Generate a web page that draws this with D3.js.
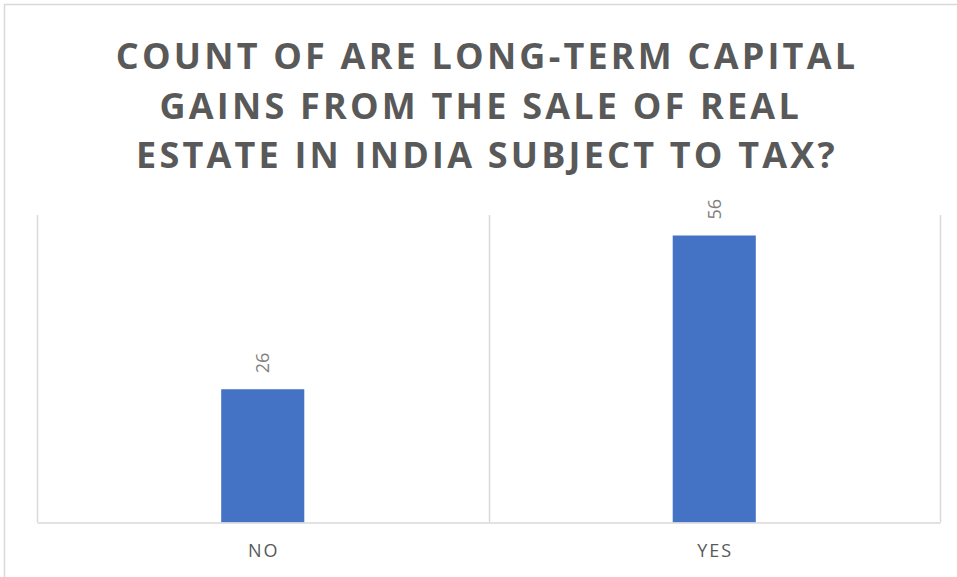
<!DOCTYPE html>
<html>
<head>
<meta charset="utf-8">
<script src="https://cdn.jsdelivr.net/npm/d3@7"></script>
<style>
  body { margin: 0; background: #fff; }
</style>
</head>
<body>
<div id="chart"></div>
<script>
var categories = ["NO", "YES"];
var counts = [26, 56];
var yDomain = [0, 60];
var titleLines = ["COUNT OF ARE LONG-TERM CAPITAL", "GAINS FROM THE SALE OF REAL ", "ESTATE IN INDIA SUBJECT TO TAX?"];

var chart_width = 957,
    chart_height = 577,
    chart_margin = { top: 215, right: 17, bottom: 54, left: 37 };

var chart_svg = d3.select("#chart")
    .append("svg")
    .attr("width", chart_width)
    .attr("height", chart_height);

// outer chart border
chart_svg.append("rect")
    .attr("x", 4.5)
    .attr("y", 4.5)
    .attr("width", 970)
    .attr("height", 600)
    .attr("fill", "#fff")
    .attr("stroke", "#d9d9d9")
    .attr("stroke-width", 1.5);

var title = chart_svg.append("text")
    .attr("text-anchor", "middle")
    .attr("font-family", "'Open Sans', sans-serif")
    .attr("font-weight", 700)
    .attr("font-size", "36px")
    .attr("letter-spacing", "3.2px")
    .style("fill", "#595959");

title.selectAll("tspan")
    .data(titleLines)
    .enter().append("tspan")
    .attr("x", 487)
    .attr("y", function (d, i) { return 69 + i * 49.5; })
    .text(function (d) { return d; });

var x = d3.scaleBand()
    .domain(categories)
    .range([chart_margin.left, chart_width - chart_margin.right])
    .padding(0);

var y = d3.scaleLinear()
    .domain(yDomain)
    .range([chart_height - chart_margin.bottom - 0.5, chart_margin.top]);

var barWidth = x.bandwidth() * 0.184;

// category separator lines
var bounds = categories.map(function (d) { return x(d); }).concat([x.range()[1]]);
chart_svg.selectAll(".sep")
    .data(bounds)
    .enter().append("line")
    .attr("class", "sep")
    .attr("x1", function (d) { return Math.round(d) + 0.5; })
    .attr("x2", function (d) { return Math.round(d) + 0.5; })
    .attr("y1", y(yDomain[1]))
    .attr("y2", y(0))
    .attr("stroke", "#d9d9d9")
    .attr("stroke-width", 1.5);

var bars = chart_svg.selectAll(".bar")
    .data(counts)
    .enter().append("rect")
    .attr("class", "bar")
    .attr("x", function (d, i) { return x(categories[i]) + (x.bandwidth() - barWidth) / 2; })
    .attr("y", function (d) { return y(d); })
    .attr("width", barWidth)
    .attr("height", function (d) { return y(0) - y(d); })
    .attr("fill", "#4472c4");

// x axis baseline
var xAxis = chart_svg.append("g")
    .attr("transform", "translate(0," + y(0) + ")")
    .call(d3.axisBottom(x).tickSize(0).tickPadding(22));
xAxis.select(".domain")
    .attr("stroke", "#d9d9d9")
    .attr("stroke-width", 1.5);
xAxis.selectAll("text")
    .attr("font-family", "'Open Sans', sans-serif")
    .attr("font-size", "18px")
    .attr("letter-spacing", "2px")
    .attr("dx", "1px")
    .style("fill", "#595959");

// value labels, rotated
chart_svg.selectAll(".val")
    .data(counts)
    .enter().append("text")
    .attr("class", "val")
    .attr("transform", function (d, i) {
        var cx = x(categories[i]) + x.bandwidth() / 2;
        return "translate(" + cx + "," + (y(d) - 16) + ") rotate(-90)";
    })
    .attr("dy", "0.35em")
    .attr("font-family", "'Open Sans', sans-serif")
    .attr("font-size", "18px")
    .style("text-anchor", "start")
    .style("fill", "#7f7f7f")
    .text(function (d) { return d; });
</script>
</body>
</html>
